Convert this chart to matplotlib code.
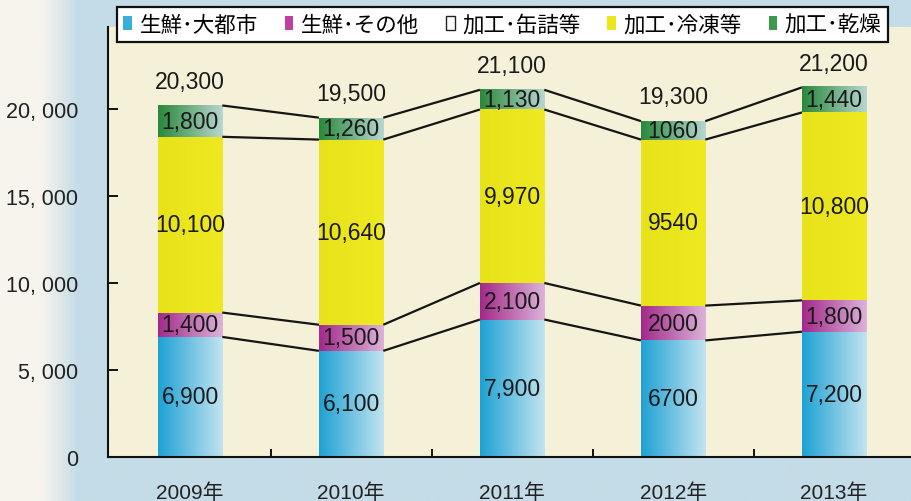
import numpy as np
import matplotlib.pyplot as plt
from matplotlib.colors import LinearSegmentedColormap
from matplotlib.patches import Patch

years = ['2009年', '2010年', '2011年', '2012年', '2013年']
fresh_city = [6900, 6100, 7900, 6700, 7200]
fresh_other = [1400, 1500, 2100, 2000, 1800]
canned = [0, 0, 0, 0, 0]
frozen = [10100, 10640, 9970, 9540, 10800]
dried = [1800, 1260, 1130, 1060, 1440]
totals = [20300, 19500, 21100, 19300, 21200]
# 2012 labels in the source are printed without thousands separators
use_comma = [True, True, True, False, True]

series_names = ['生鮮･大都市', '生鮮･その他', '加工･缶詰等', '加工･冷凍等', '加工･乾燥']
series = [fresh_city, fresh_other, canned, frozen, dried]
grad_colors = [('#1ea2d4', '#c2e4f0'),
               ('#a32a8a', '#dcb2d9'),
               ('#ffffff', '#ffffff'),
               ('#e8e21a', '#eee920'),
               ('#2a893b', '#b7d6d0')]
legend_colors = ['#3aaedb', '#c0409f', 'white', '#ece61c', '#3a9a4a']

num_font = ['Liberation Sans', 'Noto Sans CJK JP']

fig = plt.figure(figsize=(9.11, 5.02), dpi=100)

# background gradient (white on the far left, light blue elsewhere)
bg = fig.add_axes([0, 0, 1, 1], zorder=-2)
xs = np.linspace(0, 1, 400)
c_white = np.array([247, 244, 238]) / 255
c_blue = np.array([196, 220, 231]) / 255
t = np.clip((xs - 0.045) / 0.04, 0, 1)
row = c_white[None, :] * (1 - t[:, None]) + c_blue[None, :] * t[:, None]
bg.imshow(row[None, :, :], aspect='auto', extent=(0, 1, 0, 1))
bg.set_axis_off()

ax = fig.add_axes([108 / 911, 1 - 458 / 502, 806 / 911, 430 / 502])
ax.set_facecolor('#f4f1d8')

x = np.arange(len(years))
w = 0.4
bottoms = np.zeros(len(years))
bounds = []
for vals, (c0, c1) in zip(series, grad_colors):
    cmap = LinearSegmentedColormap.from_list('g', [c0, c1])
    for i, v in enumerate(vals):
        if v <= 0:
            continue
        ax.imshow(np.linspace(0, 1, 64).reshape(1, -1), cmap=cmap, aspect='auto',
                  extent=(x[i] - w / 2, x[i] + w / 2, bottoms[i], bottoms[i] + v),
                  interpolation='bilinear', zorder=2)
    bottoms = bottoms + np.array(vals)
    bounds.append(bottoms.copy())

# connecting lines between segment boundaries
for k in [0, 1, 3, 4]:
    b = bounds[k]
    for i in range(len(years) - 1):
        ax.plot([x[i] + w / 2, x[i + 1] - w / 2], [b[i], b[i + 1]],
                color='#151515', lw=1.6, zorder=3, solid_capstyle='butt')

# segment labels
def fmt(v, comma):
    return f'{v:,}' if comma else str(v)

base = np.zeros(len(years))
for vals in series:
    for i, v in enumerate(vals):
        if v > 0:
            ax.text(x[i], base[i] + v / 2, fmt(v, use_comma[i]), ha='center', va='center',
                    fontsize=16.5, family=num_font, color='#1a1a1a', zorder=4)
    base = base + np.array(vals)

for i, tot in enumerate(totals):
    ax.text(x[i], bounds[-1][i] + 1400, f'{tot:,}', ha='center', va='center',
            fontsize=16.5, family=num_font, color='#1a1a1a', zorder=4)

ax.set_xlim(-0.51, 4.496)
ax.set_ylim(0, 24710)
ax.set_yticks([0, 5000, 10000, 15000, 20000])
ax.set_yticklabels(['0', '5, 000', '10, 000', '15, 000', '20, 000'],
                   fontsize=15.5, family=num_font, color='#222222')
ax.tick_params(axis='y', direction='in', length=7, width=1.3, pad=21.5)
ax.set_xticks(x)
ax.set_xticklabels(years, fontsize=15, family=num_font, color='#222222')
ax.tick_params(axis='x', which='major', length=0, pad=18)
ax.set_xticks(x[:-1] + 0.5, minor=True)
ax.tick_params(axis='x', which='minor', direction='in', length=6, width=1.3)
for s in ['top', 'right']:
    ax.spines[s].set_visible(False)
for s in ['left', 'bottom']:
    ax.spines[s].set_linewidth(1.5)
    ax.spines[s].set_color('#111111')

handles = []
for name, col in zip(series_names, legend_colors):
    if col == 'white':
        handles.append(Patch(facecolor='white', edgecolor='#222222', lw=1.0, label=name))
    else:
        handles.append(Patch(facecolor=col, edgecolor='none', label=name))
leg = fig.legend(handles=handles, loc='upper left', bbox_to_anchor=(117 / 911, 1 - 8 / 502),
                 ncol=5, frameon=True, fancybox=False, handlelength=0.4, handleheight=0.65,
                 handletextpad=0.35, columnspacing=1.25, borderpad=0.3, borderaxespad=0,
                 prop={'family': ['Noto Sans CJK JP', 'DejaVu Sans'], 'size': 15.5})
leg.get_frame().set_edgecolor('#111111')
leg.get_frame().set_linewidth(1.6)
leg.get_frame().set_facecolor('white')
leg.get_frame().set_alpha(1)

fig.savefig('out.png', dpi=100)
